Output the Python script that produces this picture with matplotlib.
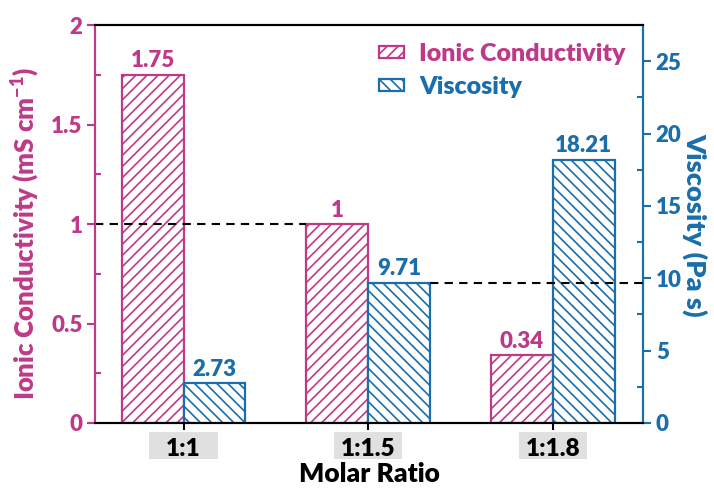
import matplotlib.pyplot as plt
from matplotlib.patches import Rectangle
from matplotlib.ticker import MultipleLocator
from matplotlib.transforms import blended_transform_factory

plt.rcParams.update({
    'font.family': ['Lato', 'DejaVu Sans'],
    'font.weight': 'heavy',
    'axes.labelweight': 'heavy',
    'mathtext.fontset': 'custom',
    'mathtext.rm': 'Lato:heavy',
    'mathtext.bf': 'Lato:heavy',
    'mathtext.default': 'bf',
    'hatch.linewidth': 1.2,
    'axes.linewidth': 1.5,
})

PINK = '#BE3A88'
BLUE = '#1A6EAB'

ratios = ['1:1', '1:1.5', '1:1.8']
conductivity = [1.75, 1.0, 0.34]   # mS cm-1
viscosity = [2.73, 9.71, 18.21]    # Pa s

W = 0.335
x = list(range(len(ratios)))

fig = plt.figure(figsize=(7.14, 4.93), dpi=100)
ax = fig.add_axes([0.133, 0.142, 0.768, 0.807])
ax2 = ax.twinx()

b1 = ax.bar([i - W / 2 for i in x], conductivity, W, color='white', edgecolor=PINK,
            hatch='///', linewidth=1.6, label='Ionic Conductivity', zorder=2)
b2 = ax2.bar([i + W / 2 for i in x], viscosity, W, color='white', edgecolor=BLUE,
             hatch='\\\\\\', linewidth=1.6, label='Viscosity', zorder=2)

for i, v in zip(x, conductivity):
    ax.annotate(f'{v:g}', (i - W / 2, v), xytext=(0, 2.5), textcoords='offset points',
                ha='center', va='bottom', color=PINK, fontsize=16)
for i, v in zip(x, viscosity):
    ax2.annotate(f'{v:g}', (i + W / 2, v), xytext=(0, 2.5), textcoords='offset points',
                 ha='center', va='bottom', color=BLUE, fontsize=16)

xlo, xhi = -0.48, 2.49
ax.set_xlim(xlo, xhi)
ax.set_ylim(0, 2)
ax2.set_ylim(0, 27.5)

# guide lines from each axis to the middle group
ax.plot([xlo, 1 - W], [conductivity[1]] * 2, color='black', ls=(0, (4, 3)), lw=1.5, zorder=3)
ax2.plot([1 + W, xhi], [viscosity[1]] * 2, color='black', ls=(0, (4, 3)), lw=1.5, zorder=3)

ax.set_xticks(x)
ax.set_xticklabels(ratios, fontsize=17.5)
ax.yaxis.set_minor_locator(MultipleLocator(0.25))
ax.set_yticks([0, 0.5, 1, 1.5, 2])
ax.set_yticklabels(['0', '0.5', '1', '1.5', '2'])
ax2.yaxis.set_major_locator(MultipleLocator(5))
ax2.yaxis.set_minor_locator(MultipleLocator(2.5))

ax.tick_params(axis='x', which='major', direction='out', length=5, width=1.5, pad=6,
               colors='black')
ax.tick_params(axis='y', which='major', direction='out', length=6, width=1.5,
               colors=PINK, labelsize=16, pad=3)
ax.tick_params(axis='y', which='minor', direction='in', length=4, width=1.5, colors=PINK)
ax2.tick_params(axis='y', which='major', direction='out', length=6, width=1.5,
                colors=BLUE, labelsize=16, pad=3)
ax2.tick_params(axis='y', which='minor', direction='in', length=4, width=1.5, colors=BLUE)

for a in (ax, ax2):
    a.spines['left'].set_color(PINK)
    a.spines['right'].set_color(BLUE)
    a.spines['top'].set_color('black')
    a.spines['bottom'].set_color('black')

# grey boxes behind the category labels
trans = blended_transform_factory(ax.transData, ax.transAxes)
for i in x:
    ax.add_patch(Rectangle((i - 0.185, -0.091), 0.37, 0.068, transform=trans,
                           facecolor='#E0E0E0', edgecolor='none', clip_on=False, zorder=0))

ax.set_xlabel('Molar Ratio', fontsize=19, color='black', labelpad=1)
ax.set_ylabel('Ionic Conductivity (mS cm$^{-1}$)', fontsize=18.5, color=PINK)
ax2.set_ylabel('Viscosity (Pa s)', fontsize=19.5, color=BLUE, rotation=270)
ax.yaxis.set_label_coords(-0.097, 0.475)
ax2.yaxis.set_label_coords(1.118, 0.497)

ax2.legend([b1, b2], ['Ionic Conductivity', 'Viscosity'], loc='upper right',
           frameon=False, labelcolor=[PINK, BLUE], handlelength=1.0,
           handleheight=0.35, handletextpad=0.6, borderaxespad=0.3, labelspacing=0.45,
           prop={'weight': 'heavy', 'size': 18})

fig.savefig('out.png', dpi=100)
